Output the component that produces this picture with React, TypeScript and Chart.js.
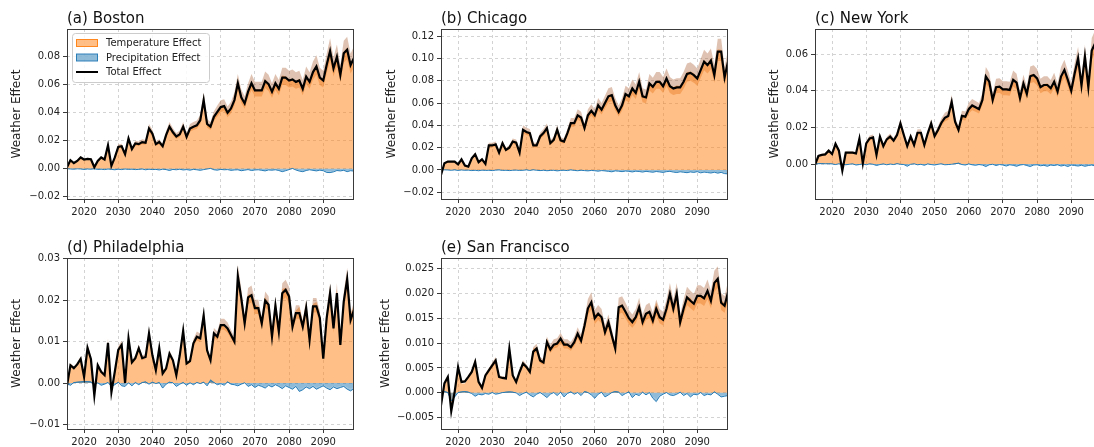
import React, { useEffect, useRef } from "react";
import { Chart, registerables } from "chart.js";
Chart.register(...registerables);

const years: number[] = Array.from({ length: 85 }, (_, i) => 2015 + i);
const xTicks = [2020, 2030, 2040, 2050, 2060, 2070, 2080, 2090];

const bostonTotal = [
  0.001, 0.006, 0.004, 0.0055, 0.008, 0.0065, 0.007, 0.0067, 0.001, 0.0055,
  0.008, 0.0065, 0.0167, 0.002, 0.008, 0.0155, 0.016, 0.0103, 0.0215, 0.014,
  0.018, 0.0175, 0.019, 0.0185, 0.0287, 0.025, 0.0175, 0.019, 0.016, 0.024,
  0.03, 0.026, 0.023, 0.0245, 0.03, 0.0227, 0.0287, 0.03, 0.031, 0.0346,
  0.049, 0.032, 0.03, 0.037, 0.0406, 0.044, 0.0447, 0.04, 0.043, 0.049,
  0.061, 0.051, 0.0466, 0.055, 0.061, 0.056, 0.056, 0.056, 0.0626, 0.0604,
  0.055, 0.061, 0.057, 0.065, 0.065, 0.063, 0.0638, 0.062, 0.063, 0.057,
  0.0657, 0.062, 0.069, 0.073, 0.065, 0.063, 0.074, 0.084, 0.0716, 0.08,
  0.0669, 0.0824, 0.085, 0.074, 0.079,
];
const bostonPrecip = [
  0.0, -0.0002, -0.0003, -0.0001, -0.0002, -0.0004, -0.0002, -0.0003, -0.0001, -0.0004,
  -0.0003, -0.0005, -0.0002, -0.0004, -0.0006, -0.0003, -0.0005, -0.0002, -0.0004, -0.0003,
  -0.0005, -0.0004, -0.0002, -0.0006, -0.0003, -0.0005, -0.0004, -0.0007, -0.0003, -0.0005,
  -0.001, -0.0004, -0.0006, -0.0003, -0.0007, -0.0005, -0.0008, -0.0004, -0.0006, -0.0009,
  -0.0005, -0.0002, 0.0003, -0.0006, -0.0008, -0.0004, -0.0006, -0.0005, -0.0009, -0.0007,
  -0.0006, -0.0011, -0.0008, -0.0005, -0.001, -0.0007, -0.0006, -0.0009, -0.0012, -0.0007,
  -0.0008, -0.0006, -0.001, -0.0016, -0.0011, -0.0005, 0.0002, -0.0007, -0.0013, -0.0016,
  -0.001, -0.0006, -0.0009, -0.0012, -0.0008, -0.0011, -0.002, -0.0021, -0.0017, -0.001,
  -0.0012, -0.0009, -0.0016, -0.0011, -0.0013,
];

const chicagoTotal = [
  -0.0045, 0.006, 0.0075, 0.0075, 0.0075, 0.005, 0.0095, 0.004, 0.003, 0.0105,
  0.014, 0.007, 0.0095, 0.0055, 0.022, 0.022, 0.023, 0.0155, 0.024, 0.018,
  0.02, 0.0255, 0.0245, 0.0155, 0.036, 0.034, 0.033, 0.022, 0.022, 0.03,
  0.033, 0.0375, 0.024, 0.027, 0.036, 0.0265, 0.0255, 0.033, 0.042, 0.042,
  0.049, 0.047, 0.0375, 0.049, 0.053, 0.049, 0.058, 0.054, 0.06, 0.066,
  0.067, 0.058, 0.052, 0.058, 0.068, 0.066, 0.073, 0.069, 0.079, 0.066,
  0.065, 0.0775, 0.0745, 0.079, 0.079, 0.075, 0.082, 0.075, 0.073, 0.074,
  0.074, 0.079, 0.086, 0.087, 0.085, 0.082, 0.0895, 0.097, 0.094, 0.098,
  0.085, 0.106, 0.106, 0.083, 0.097,
];
const chicagoPrecip = [
  0.0005, 0.0002, 0.0, -0.0002, 0.0001, -0.0003, 0.0, -0.0002, -0.0001, -0.0004,
  -0.0002, -0.0005, -0.0001, -0.0003, -0.0002, -0.0004, -0.0001, 0.0001, -0.0003, -0.0002,
  -0.0004, -0.0002, -0.0001, -0.0003, -0.0002, 0.0001, -0.0003, 0.0002, -0.0002, -0.0004,
  -0.0002, -0.0005, -0.0003, -0.0002, -0.0006, -0.0003, -0.0002, -0.0004, 0.0001, -0.0003,
  -0.0005, -0.0002, -0.0004, -0.0006, -0.0003, -0.0005, -0.0008, -0.0004, -0.0006, -0.0009,
  -0.0012, -0.0006, -0.0008, -0.0011, -0.0007, -0.0009, -0.0013, -0.0008, -0.001, -0.0014,
  -0.0009, -0.0012, -0.0015, -0.001, -0.0013, -0.0016, -0.0011, -0.0009, -0.0014, -0.0017,
  -0.0012, -0.0015, -0.0018, -0.0013, -0.0016, -0.0011, -0.0019, -0.0014, -0.0017, -0.002,
  -0.0015, -0.0021, -0.0016, -0.0024, -0.0026,
];

const newYorkTotal = [
  -0.0005, 0.0044, 0.005, 0.0053, 0.0073, 0.0055, 0.011, 0.0073, -0.0036, 0.0062,
  0.0062, 0.0062, 0.0058, 0.0139, 0.0004, 0.0113, 0.014, 0.0146, 0.005, 0.015,
  0.0098, 0.0135, 0.015, 0.0128, 0.0159, 0.0222, 0.0159, 0.0098, 0.015, 0.0104,
  0.0171, 0.0171, 0.0104, 0.0168, 0.0222, 0.0153, 0.0186, 0.0226, 0.0253, 0.0263,
  0.034, 0.0231, 0.0186, 0.0263, 0.0259, 0.03, 0.032, 0.031, 0.03, 0.035,
  0.0478, 0.045, 0.035, 0.042, 0.0423, 0.0408, 0.0408, 0.0405, 0.046, 0.0445,
  0.036, 0.044, 0.0383, 0.048, 0.0487, 0.0468, 0.042, 0.0432, 0.0432, 0.0414,
  0.045, 0.0396, 0.0478, 0.0514, 0.046, 0.04, 0.0496, 0.0578, 0.043, 0.0587,
  0.042, 0.062, 0.066, 0.055, 0.06,
];
const newYorkPrecip = [
  0.0, 0.0003, 0.0004, 0.0002, 0.0003, 0.0001, -0.0002, 0.0002, 0.0, -0.0003,
  -0.0001, 0.0002, -0.0004, -0.0002, 0.0001, -0.0003, 0.0002, -0.0001, -0.0006, -0.0002,
  0.0001, -0.0003, 0.0, -0.0002, 0.0003, -0.0001, -0.0002, -0.0009, -0.0001, 0.0002,
  -0.0003, -0.0001, -0.0005, 0.0001, -0.0002, -0.0004, -0.0001, 0.0002, -0.0003, -0.0002,
  -0.0001, 0.0003, 0.0007, -0.0002, -0.0004, 0.0001, -0.0003, -0.0005, -0.0002, -0.0004,
  -0.001, -0.0003, -0.0001, -0.0006, -0.0002, -0.0004, -0.0008, -0.0003, -0.0005, -0.0009,
  -0.0004, -0.0002, -0.0006, -0.001, -0.0004, -0.0003, -0.0007, -0.0005, -0.0009, -0.0004,
  -0.0006, -0.0003, -0.0008, -0.0005, -0.001, -0.0004, -0.0006, -0.0008, -0.0005, -0.0009,
  -0.0006, -0.0004, -0.0008, -0.0005, -0.0007,
];

const philadelphiaTotal = [
  -0.0006, 0.0043, 0.0036, 0.0045, 0.0058, 0.0015, 0.0085, 0.0058, -0.003, 0.0043,
  0.0027, 0.0019, 0.0097, -0.0022, 0.0028, 0.008, 0.0092, 0.0, 0.0108, 0.005,
  0.006, 0.0084, 0.006, 0.0063, 0.012, 0.0067, 0.0031, 0.0084, 0.0023, 0.0035,
  0.0071, 0.0055, 0.0019, 0.0067, 0.0126, 0.0047, 0.0053, 0.0096, 0.0112, 0.0108,
  0.0163, 0.0079, 0.0055, 0.012, 0.0112, 0.014, 0.014, 0.0132, 0.0116, 0.01,
  0.0258, 0.0205, 0.0144, 0.0207, 0.0212, 0.0181, 0.0181, 0.0144, 0.0199, 0.0189,
  0.0112, 0.0187, 0.0124, 0.0217, 0.0225, 0.0209, 0.0136, 0.0169, 0.0169, 0.0136,
  0.0182, 0.0104, 0.0185, 0.0185, 0.0157, 0.0059, 0.0157, 0.0217, 0.0132, 0.0217,
  0.0092, 0.0197, 0.0251, 0.0152, 0.0177,
];
const philadelphiaPrecip = [
  -0.0001, -0.0004, 0.0002, 0.0003, 0.0004, 0.0005, 0.0005, 0.0004, -0.0003, 0.0001,
  -0.0004, -0.0002, 0.0002, -0.0006, -0.0003, 0.0003, -0.0005, -0.0006, 0.0001, -0.0005,
  0.0002, -0.0003, 0.0002, 0.0004, -0.0002, 0.0003, -0.0001, 0.0002, -0.0009, -0.0002,
  0.0003, 0.0001, -0.0006, -0.0002, 0.0002, -0.0004, 0.0001, -0.0003, 0.0002, -0.0001,
  0.0003, -0.0005, 0.0009, 0.0002, -0.0003, -0.0001, -0.0004, 0.0004, -0.0002, -0.0003,
  -0.0005, -0.0002, 0.0001, -0.0006, -0.0003, -0.0008, -0.0004, -0.0006, -0.0009, -0.0004,
  -0.0007, -0.0003, -0.0006, -0.001, -0.0005, -0.0008, -0.0011, -0.0006, -0.0015, -0.0012,
  -0.0007, -0.001, -0.0006, -0.0011, -0.0008, -0.0005, -0.0009, -0.0012, -0.0007, -0.001,
  -0.0008, -0.0006, -0.0011, -0.0014, -0.001,
];

const sanFranciscoTotal = [
  -0.0025, 0.0019, 0.0032, -0.0037, 0.0002, 0.0052, 0.0022, 0.0023, 0.0032, 0.0042,
  0.0062, 0.0022, 0.001, 0.0035, 0.0045, 0.0055, 0.0065, 0.0032, 0.003, 0.0029,
  0.0089, 0.0035, 0.0022, 0.0042, 0.0059, 0.0052, 0.0042, 0.0083, 0.0089, 0.0065,
  0.0061, 0.0102, 0.0087, 0.0097, 0.0099, 0.0109, 0.0097, 0.0097, 0.0092, 0.0102,
  0.0119, 0.0105, 0.0135, 0.017, 0.0182, 0.015, 0.0159, 0.0152, 0.0122, 0.0142,
  0.0115, 0.0089, 0.0172, 0.0175, 0.0163, 0.015, 0.0142, 0.0152, 0.0172, 0.0142,
  0.0159, 0.0163, 0.0145, 0.0169, 0.0152, 0.0147, 0.0169, 0.0199, 0.0169, 0.0199,
  0.0142, 0.0169, 0.0192, 0.0185, 0.0179, 0.0195, 0.0195, 0.019, 0.0205, 0.0185,
  0.0221, 0.0229, 0.0181, 0.0175, 0.0202,
];
const sanFranciscoPrecip = [
  0.0002, 0.0004, 0.0001, -0.0012, -0.0006, 0.0001, 0.0003, 0.0004, 0.0002, -0.0001,
  -0.0005, -0.0002, -0.0003, -0.0001, -0.0002, 0.0001, -0.0002, -0.0001, 0.0001, 0.0002,
  0.0003, 0.0002, 0.0, -0.0004, -0.0001, 0.0002, -0.0003, -0.0006, -0.0002, 0.0001,
  -0.0003, -0.0007, -0.0002, 0.0001, -0.0004, 0.0002, -0.0006, -0.0001, 0.0003, -0.0002,
  0.0001, -0.0004, 0.0004, 0.0001, -0.0003, -0.0008, -0.0002, 0.0002, -0.0006, -0.0003,
  0.0001, 0.0004, 0.0002, -0.0004, -0.0001, 0.0003, -0.0007, -0.0002, -0.0004, 0.0002,
  -0.0003, 0.0001, -0.0008, -0.0013, -0.0005, -0.0002, 0.0001, -0.0003, -0.0004, -0.0002,
  0.0002, -0.0004, -0.0001, -0.0006, -0.0002, -0.0003, 0.0001, -0.0004, -0.0002, -0.0003,
  0.0003, -0.0002, -0.0006, -0.0005, -0.0004,
];

const bostonYTicks = [-0.02, 0.0, 0.02, 0.04, 0.06, 0.08];
const chicagoYTicks = [-0.02, 0.0, 0.02, 0.04, 0.06, 0.08, 0.1, 0.12];
const newYorkYTicks = [0.0, 0.02, 0.04, 0.06];
const philadelphiaYTicks = [-0.01, 0.0, 0.01, 0.02, 0.03];
const sanFranciscoYTicks = [-0.005, 0.0, 0.005, 0.01, 0.015, 0.02, 0.025];

const legendLabels = ["Temperature Effect", "Precipitation Effect", "Total Effect"];

const FONT = "'DejaVu Sans', 'Liberation Sans', sans-serif";

type PanelCfg = {
  title: string;
  total: number[];
  precip: number[];
  yTicks: number[];
  decimals: number;
  yMin: number;
  yMax: number;
  left: number;
  top: number;
  w: number;
  h: number;
  axisW: number;
  legend?: boolean;
};

const panels: PanelCfg[] = [
  { title: "(a) Boston", total: bostonTotal, precip: bostonPrecip, yTicks: bostonYTicks, decimals: 2, yMin: -0.0217, yMax: 0.0998, left: 67, top: 29, w: 287, h: 170, axisW: 61, legend: true },
  { title: "(b) Chicago", total: chicagoTotal, precip: chicagoPrecip, yTicks: chicagoYTicks, decimals: 2, yMin: -0.026, yMax: 0.1263, left: 441, top: 29, w: 287, h: 170, axisW: 60 },
  { title: "(c) New York", total: newYorkTotal, precip: newYorkPrecip, yTicks: newYorkYTicks, decimals: 2, yMin: -0.0191, yMax: 0.0738, left: 815, top: 29, w: 287, h: 170, axisW: 51 },
  { title: "(d) Philadelphia", total: philadelphiaTotal, precip: philadelphiaPrecip, yTicks: philadelphiaYTicks, decimals: 2, yMin: -0.0111, yMax: 0.0302, left: 67, top: 258, w: 287, h: 171, axisW: 61 },
  { title: "(e) San Francisco", total: sanFranciscoTotal, precip: sanFranciscoPrecip, yTicks: sanFranciscoYTicks, decimals: 3, yMin: -0.00726, yMax: 0.0271, left: 441, top: 258, w: 287, h: 171, axisW: 66 },
];

const TOP_PAD = 29;
const RIGHT_PAD = 8;
const X_AXIS_H = 24;

function Panel({ cfg }: { cfg: PanelCfg }) {
  const ref = useRef<HTMLCanvasElement>(null);
  const cw = cfg.axisW + cfg.w + RIGHT_PAD;
  const chh = TOP_PAD + cfg.h + X_AXIS_H;

  useEffect(() => {
    if (!ref.current) return;
    const total = cfg.total;
    const precip = cfg.precip;
    const temp = total.map((t, i) => t - precip[i]);
    const upper = total.map((t) => t + 0.11 * Math.abs(t));
    const lower = total.map((t) => t - 0.08 * Math.abs(t));
    const pLower = precip.map((p) => p - 0.35 * Math.abs(p));
    const pts = (arr: number[]) => arr.map((v, i) => ({ x: years[i], y: v }));
    const base = { pointRadius: 0, tension: 0, borderColor: "transparent", borderWidth: 0 };

    const overlay = {
      id: "overlay",
      afterDraw(chart: any) {
        const { ctx, chartArea: a } = chart;
        ctx.save();
        ctx.strokeStyle = "#3a3a3a";
        ctx.lineWidth = 1;
        ctx.strokeRect(Math.round(a.left) + 0.5, Math.round(a.top) + 0.5, Math.round(a.right - a.left) - 1, Math.round(a.bottom - a.top));
        ctx.fillStyle = "#111";
        ctx.font = `15px ${FONT}`;
        ctx.textAlign = "left";
        ctx.textBaseline = "alphabetic";
        ctx.fillText(cfg.title, a.left, a.top - 6);
        if (cfg.legend) {
          const bx = a.left + 5, by = a.top + 4, bw = 137, bh = 49;
          ctx.fillStyle = "rgba(255,255,255,0.85)";
          ctx.strokeStyle = "#cccccc";
          ctx.lineWidth = 1;
          ctx.beginPath();
          (ctx as any).roundRect(bx + 0.5, by + 0.5, bw, bh, 3);
          ctx.fill();
          ctx.stroke();
          const styles = [
            { kind: "patch", fill: "rgba(255,127,14,0.5)", stroke: "rgba(255,127,14,0.9)" },
            { kind: "patch", fill: "rgba(31,119,180,0.5)", stroke: "rgba(31,119,180,0.9)" },
            { kind: "line", fill: "#000", stroke: "#000" },
          ];
          ctx.font = `10px ${FONT}`;
          ctx.textBaseline = "middle";
          legendLabels.forEach((label, i) => {
            const r = styles[i];
            const cy = by + 10 + i * 14.5;
            if (r.kind === "patch") {
              ctx.fillStyle = r.fill;
              ctx.fillRect(bx + 4, cy - 3.5, 22, 7);
              ctx.strokeStyle = r.stroke;
              ctx.lineWidth = 1;
              ctx.strokeRect(bx + 4.5, cy - 3.5, 21, 7);
            } else {
              ctx.strokeStyle = r.stroke;
              ctx.lineWidth = 2;
              ctx.beginPath();
              ctx.moveTo(bx + 4, cy);
              ctx.lineTo(bx + 26, cy);
              ctx.stroke();
            }
            ctx.fillStyle = "#222";
            ctx.fillText(label, bx + 34, cy + 0.5);
          });
        }
        ctx.restore();
      },
    };

    const gridCfg = {
      color: "rgba(175,175,175,0.7)",
      lineWidth: 0.8,
      drawTicks: true,
      tickLength: 4,
      tickColor: "#3a3a3a",
      tickWidth: 1,
      tickBorderDash: [],
    };

    const chart = new Chart(ref.current, {
      type: "line",
      data: {
        datasets: [
          { ...base, data: pts(temp), fill: "origin", backgroundColor: "rgba(255,127,14,0.5)", order: 8 },
          { ...base, data: pts(lower), fill: false, order: 7 },
          { ...base, data: pts(total), fill: "-1", backgroundColor: "rgba(230,110,20,0.38)", order: 6 },
          { ...base, data: pts(upper), fill: "-1", backgroundColor: "rgba(170,95,50,0.38)", order: 5 },
          { ...base, data: pts(precip), fill: "origin", backgroundColor: "rgba(31,119,180,0.5)", order: 4 },
          { ...base, data: pts(pLower), fill: "-1", backgroundColor: "rgba(31,119,180,0.45)", borderColor: "rgba(31,119,180,0.95)", borderWidth: 1, order: 3 },
          { ...base, data: pts(total), fill: false, borderColor: "#000", borderWidth: 2.2, order: 1 },
        ] as any,
      },
      options: {
        responsive: false,
        animation: false,
        events: [],
        layout: { padding: { top: TOP_PAD, right: RIGHT_PAD, left: 0, bottom: 0 } },
        plugins: { legend: { display: false }, tooltip: { enabled: false }, title: { display: false } },
        scales: {
          x: {
            type: "linear",
            min: 2015,
            max: 2099,
            afterBuildTicks: (s: any) => {
              s.ticks = xTicks.map((v) => ({ value: v }));
            },
            afterFit: (s: any) => {
              s.height = X_AXIS_H;
            },
            ticks: {
              autoSkip: false,
              maxRotation: 0,
              padding: 3,
              color: "#222",
              font: { family: FONT, size: 10 },
              callback: (v: any) => String(v),
            },
            grid: gridCfg,
            border: { display: false, dash: [3, 3] },
          },
          y: {
            type: "linear",
            min: cfg.yMin,
            max: cfg.yMax,
            afterBuildTicks: (s: any) => {
              s.ticks = cfg.yTicks.map((v) => ({ value: v }));
            },
            afterFit: (s: any) => {
              s.width = cfg.axisW;
            },
            title: {
              display: true,
              text: "Weather Effect",
              color: "#222",
              font: { family: FONT, size: 12 },
              padding: { top: 4, bottom: 4 },
            },
            ticks: {
              autoSkip: false,
              padding: 3,
              color: "#222",
              font: { family: FONT, size: 10 },
              callback: (v: any) => Number(v).toFixed(cfg.decimals).replace("-", "\u2212"),
            },
            grid: gridCfg,
            border: { display: false, dash: [3, 3] },
          },
        },
      } as any,
      plugins: [overlay],
    });
    return () => chart.destroy();
  }, []);

  return (
    <canvas
      ref={ref}
      width={cw}
      height={chh}
      style={{
        position: "absolute",
        left: cfg.left - cfg.axisW,
        top: cfg.top - TOP_PAD,
        width: cw,
        height: chh,
      }}
    />
  );
}

export default function App() {
  return (
    <div
      style={{
        position: "fixed",
        left: 0,
        top: 0,
        width: 1094,
        height: 447,
        overflow: "hidden",
        background: "#fff",
      }}
    >
      {panels.map((p) => (
        <Panel key={p.title} cfg={p} />
      ))}
    </div>
  );
}
